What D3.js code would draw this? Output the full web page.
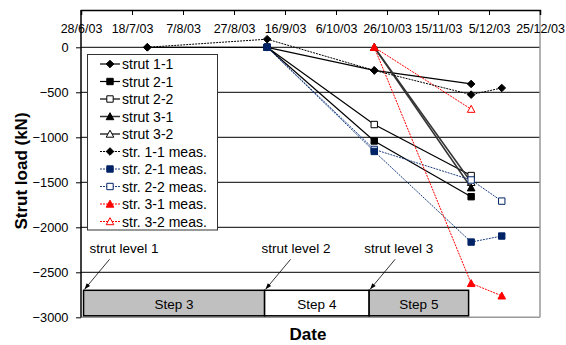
<!DOCTYPE html>
<html>
<head>
<meta charset="utf-8">
<script src="https://cdn.jsdelivr.net/npm/d3@7"></script>
<style>
  body { margin: 0; background: #fff; }
  svg text { font-family: "Liberation Sans", Arial, sans-serif; }
</style>
</head>
<body>
<div id="chart"></div>
<script>
// Даты и значения (kN)
const xTickLabels = ['28/6/03', '18/7/03', '7/8/03', '27/8/03', '16/9/03', '6/10/03', '26/10/03', '15/11/03', '5/12/03', '25/12/03'];
const yTickValues = [0, -500, -1000, -1500, -2000, -2500, -3000];

const strut11Dates = ['24/7/03', '9/9/03', '21/10/03', '28/11/03'];
const strut11Values = [0, 0, -257, -407];
const strut21Dates = ['9/9/03', '21/10/03', '28/11/03'];
const strut21Values = [0, -1041, -1660];
const strut22Dates = ['9/9/03', '21/10/03', '28/11/03'];
const strut22Values = [0, -858, -1425];
const strut31Dates = ['21/10/03', '28/11/03'];
const strut31Values = [0, -1560];
const strut32Dates = ['21/10/03', '28/11/03'];
const strut32Values = [0, -1500];

const meas11Dates = ['24/7/03', '9/9/03', '21/10/03', '28/11/03', '10/12/03'];
const meas11Values = [0, 90, -257, -526, -452];
const meas21Dates = ['9/9/03', '21/10/03', '28/11/03', '10/12/03'];
const meas21Values = [0, -1157, -2164, -2097];
const meas22Dates = ['9/9/03', '21/10/03', '28/11/03', '10/12/03'];
const meas22Values = [0, -1135, -1474, -1709];
const meas31Dates = ['21/10/03', '28/11/03', '10/12/03'];
const meas31Values = [0, -2623, -2761];
const meas32Dates = ['21/10/03', '28/11/03'];
const meas32Values = [0, -687];

// Этапы строительства
const stepNames = ['Step 3', 'Step 4', 'Step 5'];
const stepStart = ['29/6/03', '8/9/03', '19/10/03'];
const stepEnd = ['8/9/03', '19/10/03', '27/11/03'];
const stepTop = -2700;
const stepBottom = -3000;

const levelNames = ['strut level 1', 'strut level 2', 'strut level 3'];

const parse = d3.timeParse('%d/%m/%y');
const fmt = d3.timeFormat('%-d/%-m/%y');

const width = 566, height = 345;
const plotLeft = 81, plotRight = 540, plotTop = 10, plotBottom = 317.3;

const svg = d3.select('#chart').append('svg')
  .attr('width', width).attr('height', height);

const x = d3.scaleTime()
  .domain([parse('28/6/03'), parse('25/12/03')])
  .range([plotLeft, plotRight]);

const y = d3.scaleLinear()
  .domain([-3000, 0])
  .range([plotBottom, 47.3]);

// Серии: имя, цвет, маркер, заливка, пунктир
const series = [
  { name: 'strut 1-1', dates: strut11Dates, values: strut11Values, color: '#000', line: '#000', marker: 'diamond', fill: true, dash: null, w: 1.2 },
  { name: 'strut 2-1', dates: strut21Dates, values: strut21Values, color: '#000', line: '#000', marker: 'square', fill: true, dash: null, w: 1.2 },
  { name: 'strut 2-2', dates: strut22Dates, values: strut22Values, color: '#000', line: '#000', marker: 'square', fill: false, dash: null, w: 1.2 },
  { name: 'strut 3-1', dates: strut31Dates, values: strut31Values, color: '#000', line: '#333', marker: 'triangle', fill: true, dash: null, w: 1.5 },
  { name: 'strut 3-2', dates: strut32Dates, values: strut32Values, color: '#000', line: '#333', marker: 'triangle', fill: false, dash: null, w: 1.5 },
  { name: 'str. 1-1 meas.', dates: meas11Dates, values: meas11Values, color: '#000', line: '#000', marker: 'diamond', fill: true, dash: '2,1', w: 1 },
  { name: 'str. 2-1 meas.', dates: meas21Dates, values: meas21Values, color: '#002366', line: '#1c3f80', marker: 'square', fill: true, dash: '2,1', w: 1 },
  { name: 'str. 2-2 meas.', dates: meas22Dates, values: meas22Values, color: '#002366', line: '#1c3f80', marker: 'square', fill: false, dash: '2,1', w: 1 },
  { name: 'str. 3-1 meas.', dates: meas31Dates, values: meas31Values, color: '#ff0000', line: '#ff0000', marker: 'triangle', fill: true, dash: '2,1', w: 1 },
  { name: 'str. 3-2 meas.', dates: meas32Dates, values: meas32Values, color: '#ff0000', line: '#ff0000', marker: 'triangle', fill: false, dash: '2,1', w: 1 }
];

// Порядок отрисовки: полые маркеры под закрашенными
const drawOrder = [0, 2, 1, 4, 3, 7, 6, 9, 8, 5];

function markerPath(type) {
  if (type === 'diamond') return 'M0,-3.8L3.8,0L0,3.8L-3.8,0Z';
  if (type === 'square') return 'M-3.2,-3.2H3.2V3.2H-3.2Z';
  return 'M0,-3.8L3.8,3.2L-3.8,3.2Z';
}

function drawMarker(g, s, cx, cy) {
  g.append('path')
    .attr('d', markerPath(s.marker))
    .attr('transform', `translate(${cx},${cy})`)
    .attr('fill', s.fill ? s.color : '#fff')
    .attr('stroke', s.color)
    .attr('stroke-width', 1);
}

// Сетка
svg.append('g')
  .selectAll('line')
  .data(yTickValues.filter(v => v > -3000))
  .enter()
  .append('line')
  .attr('x1', plotLeft).attr('x2', plotRight)
  .attr('y1', v => y(v)).attr('y2', v => y(v))
  .attr('stroke', '#000').attr('stroke-width', 1);

// Рамка (правая и нижняя серые)
svg.append('line').attr('x1', plotLeft).attr('x2', plotRight).attr('y1', plotBottom).attr('y2', plotBottom)
  .attr('stroke', '#999').attr('stroke-width', 1.5);
svg.append('line').attr('x1', plotRight).attr('x2', plotRight).attr('y1', plotTop).attr('y2', plotBottom)
  .attr('stroke', '#999').attr('stroke-width', 1.5);

// Этапы
const stepG = svg.append('g');
stepNames.forEach((name, i) => {
  const x0 = x(parse(stepStart[i])), x1 = x(parse(stepEnd[i]));
  stepG.append('rect')
    .attr('x', x0).attr('y', y(stepTop))
    .attr('width', x1 - x0).attr('height', y(stepBottom) - y(stepTop) - 1.5)
    .attr('fill', i === 1 ? '#fff' : '#c0c0c0')
    .attr('stroke', '#000').attr('stroke-width', 1.5);
  stepG.append('text')
    .attr('x', (x0 + x1) / 2).attr('y', y(-2850) + 5)
    .attr('text-anchor', 'middle')
    .attr('font-size', 13.5)
    .text(name);
});

// Подписи уровней распорок со стрелками
const levelDx = [6, -3, -5];
levelNames.forEach((name, i) => {
  const tx = x(parse(stepStart[i])), ty = y(stepTop);
  svg.append('line')
    .attr('x1', tx + 26).attr('y1', ty - 31)
    .attr('x2', tx + 1).attr('y2', ty - 1)
    .attr('stroke', '#000').attr('stroke-width', 0.8);
  svg.append('path')
    .attr('d', 'M0,0L-6,-2.2L-6,2.2Z')
    .attr('transform', `translate(${tx + 1},${ty - 1}) rotate(${Math.atan2(30, -25) * 180 / Math.PI})`)
    .attr('fill', '#000');
  svg.append('text')
    .attr('x', tx + levelDx[i]).attr('y', ty - 37)
    .attr('font-size', 13.5)
    .text(name);
});

// Линии и маркеры
drawOrder.forEach(k => {
  const s = series[k];
  const pts = s.dates.map((d, i) => ({ date: parse(d), value: s.values[i] }));
  const line = d3.line().x(p => x(p.date)).y(p => y(p.value));
  svg.append('path')
    .datum(pts)
    .attr('d', line)
    .attr('fill', 'none')
    .attr('stroke', s.line)
    .attr('stroke-width', s.w)
    .attr('stroke-dasharray', s.dash);
  const g = svg.append('g');
  pts.forEach(p => drawMarker(g, s, x(p.date), y(p.value)));
});

// Ось X сверху
const xAxis = d3.axisBottom(x)
  .tickValues(xTickLabels.map(parse))
  .tickFormat(fmt)
  .tickSize(5)
  .tickPadding(9.5);

const gx = svg.append('g')
  .attr('transform', `translate(0,${plotTop})`)
  .call(xAxis);
gx.select('.domain').attr('stroke', '#000').attr('stroke-width', 1.5);
gx.selectAll('line').attr('stroke', '#000');
gx.selectAll('text').attr('font-size', 12.5).attr('font-family', '"Liberation Sans", Arial, sans-serif').attr('fill', '#000');

// Ось Y
const yAxis = d3.axisLeft(y)
  .tickValues(yTickValues)
  .tickFormat(d3.format('d'))
  .tickSize(5)
  .tickPadding(7.5);

const gy = svg.append('g')
  .attr('transform', `translate(${plotLeft},0)`)
  .call(yAxis);
gy.select('.domain').attr('d', `M0,${plotTop}V${plotBottom}`).attr('stroke', '#000').attr('stroke-width', 1.5);
gy.selectAll('line').attr('stroke', '#000');
gy.selectAll('text').attr('font-size', 12.8).attr('font-family', '"Liberation Sans", Arial, sans-serif').attr('fill', '#000');

// Легенда
const lg = svg.append('g');
lg.append('rect')
  .attr('x', 87.5).attr('y', 54.5).attr('width', 130).attr('height', 175.5)
  .attr('fill', '#fff').attr('stroke', '#333').attr('stroke-width', 1);
series.forEach((s, i) => {
  const ly = 64 + i * 17.5;
  lg.append('line')
    .attr('x1', 100).attr('x2', 120).attr('y1', ly).attr('y2', ly)
    .attr('stroke', s.line).attr('stroke-width', s.w)
    .attr('stroke-dasharray', s.dash);
  drawMarker(lg, s, 110, ly);
  lg.append('text')
    .attr('x', 122).attr('y', ly + 5)
    .attr('font-size', 14)
    .text(s.name);
});

// Заголовки осей
svg.append('text')
  .attr('x', 308).attr('y', 339.5)
  .attr('text-anchor', 'middle')
  .attr('font-size', 17).attr('font-weight', 'bold')
  .text('Date');

svg.append('text')
  .attr('transform', 'translate(26.5,171) rotate(-90)')
  .attr('text-anchor', 'middle')
  .attr('font-size', 17).attr('font-weight', 'bold')
  .text('Strut load (kN)');
</script>
</body>
</html>
